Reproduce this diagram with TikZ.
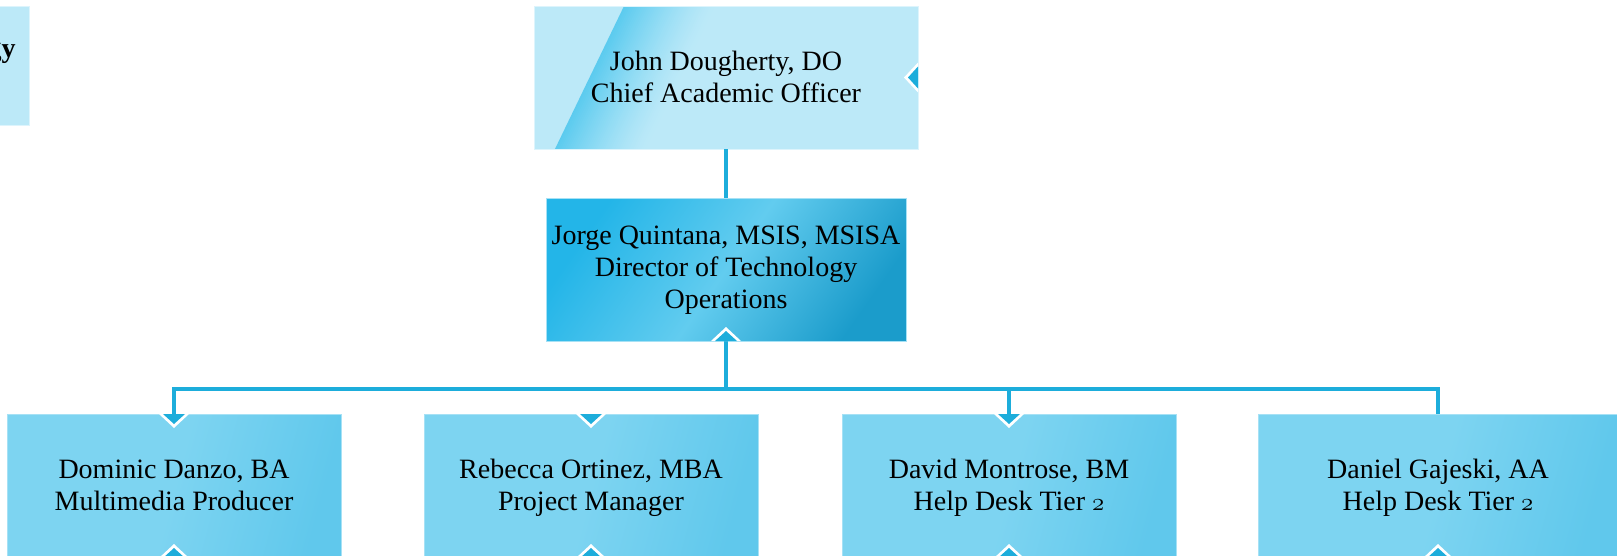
\documentclass[tikz,border=0pt]{standalone}
\usepackage{fontspec}
\setmainfont{Liberation Serif}
\definecolor{linec}{HTML}{1DADDB}
\definecolor{topc}{HTML}{BCE9F8}
\definecolor{bandc}{HTML}{5CCBEF}
\definecolor{midc}{HTML}{23B5E8}
\definecolor{midl}{HTML}{62CCEF}
\definecolor{midd}{HTML}{1B9CCB}
\definecolor{botl}{HTML}{7DD4F1}
\definecolor{botr}{HTML}{60C8EC}
\definecolor{edgec}{HTML}{A6E1F5}
\definecolor{topedge}{HTML}{DDF4FC}
\newcommand\oldtwo{{\fontsize{31}{32}\usefont{OML}{lmm}{m}{it}2}}
\pgfdeclarelayer{bg}
\pgfsetlayers{bg,main}
\tikzset{
  conn/.style={draw=linec, line width=4pt, line join=miter},
  box/.style={inner sep=0pt, outer sep=0pt, align=center,
    font=\fontsize{28}{32}\selectfont, text=black, line width=1pt},
  tlbox/.style={box, fill=topc, draw=topedge, minimum width=359pt, minimum height=119pt},
  tltext/.style={inner sep=0pt, outer sep=0pt, font=\fontsize{28}{32}\selectfont\bfseries, text=black},
  topbox/.style={box, draw=topedge, minimum width=384pt, minimum height=143pt,
    text height=55pt, text depth=6pt},
  midbox/.style={box, draw=edgec, left color=midc, right color=midd, middle color=midl,
    shading angle=55, minimum width=360pt, minimum height=143pt,
    text height=83pt, text depth=6pt},
  botbox/.style={box, draw=edgec, left color=botl, right color=botr, middle color=botl,
    shading angle=75, minimum width=334pt, minimum height=144pt,
    text height=54pt, text depth=6pt},
  chevd/.pic={
    \fill[white] (-15,0) -- (0,14) -- (15,0) -- cycle;
    \fill[linec] (-11,0) -- (0,10) -- (11,0) -- cycle;
  },
  chevu/.pic={
    \fill[white] (-15,0) -- (0,-14) -- (15,0) -- cycle;
    \fill[linec] (-11,0) -- (0,-10) -- (11,0) -- cycle;
  },
  chevl/.pic={
    \fill[white] (0,-15) -- (-14,0) -- (0,15) -- cycle;
    \fill[linec] (0,-11) -- (-10,0) -- (0,11) -- cycle;
  }
}
\begin{document}
\begin{tikzpicture}[x=1pt,y=-1pt]
\useasboundingbox (0,0) rectangle (1617,555);
\clip (0,0) rectangle (1617,555);

% boxes
\node[tlbox] (tl) at (-150.5,65.5) {};
\node[tltext, anchor=base east] (tlt) at (15.5,57) {gy};
\node[topbox] (cao) at (726,77.5) {John Dougherty, DO\\Chief Academic Officer};
\node[midbox] (dir) at (726,269.5) {Jorge Quintana, MSIS, MSISA\\Director of Technology\\Operations};
\node[botbox] (dd) at (174,486) {Dominic Danzo, BA\\Multimedia Producer};
\node[botbox] (ro) at (591,486) {Rebecca Ortinez, MBA\\Project Manager};
\node[botbox] (dm) at (1009,486) {David Montrose, BM\\Help Desk Tier \oldtwo};
\node[botbox, minimum width=360pt] (dg) at (1438,486) {Daniel Gajeski, AA\\Help Desk Tier \oldtwo};

% background of the top box with its slanted band
\begin{pgfonlayer}{bg}
  \fill[white] (0,0) rectangle (1617,555);
  \fill[topc] (cao.north west) rectangle (cao.south east);
  \begin{scope}
    \clip (cao.north west) rectangle (cao.south east);
    \foreach \i in {0,...,44}{
      \pgfmathsetmacro\p{100*(1-\i/45)^1.3}
      \fill[bandc!\p!topc] (625+2*\i,4) -- (627.6+2*\i,4) -- (556.6+2*\i,151) -- (554+2*\i,151) -- cycle;
    }
  \end{scope}
\end{pgfonlayer}

% connectors
\coordinate (bus) at (726,389);
\draw[conn] (cao.south) -- (dir.north);
\draw[conn] (dir.south) -- (bus);
\draw[conn] (dd.north) |- (bus) -| (dg.north);
\draw[conn] (dm.north) -- (dm.north |- bus);

% notches
\pic at (cao.east) {chevl};
\pic at (dir.south) {chevu};
\pic at (dd.north) {chevd};
\pic at (ro.north) {chevd};
\pic at (dm.north) {chevd};
\pic at (dd.south) {chevu};
\pic at (ro.south) {chevu};
\pic at (dm.south) {chevu};
\pic at (dg.south) {chevu};
\end{tikzpicture}
\end{document}
